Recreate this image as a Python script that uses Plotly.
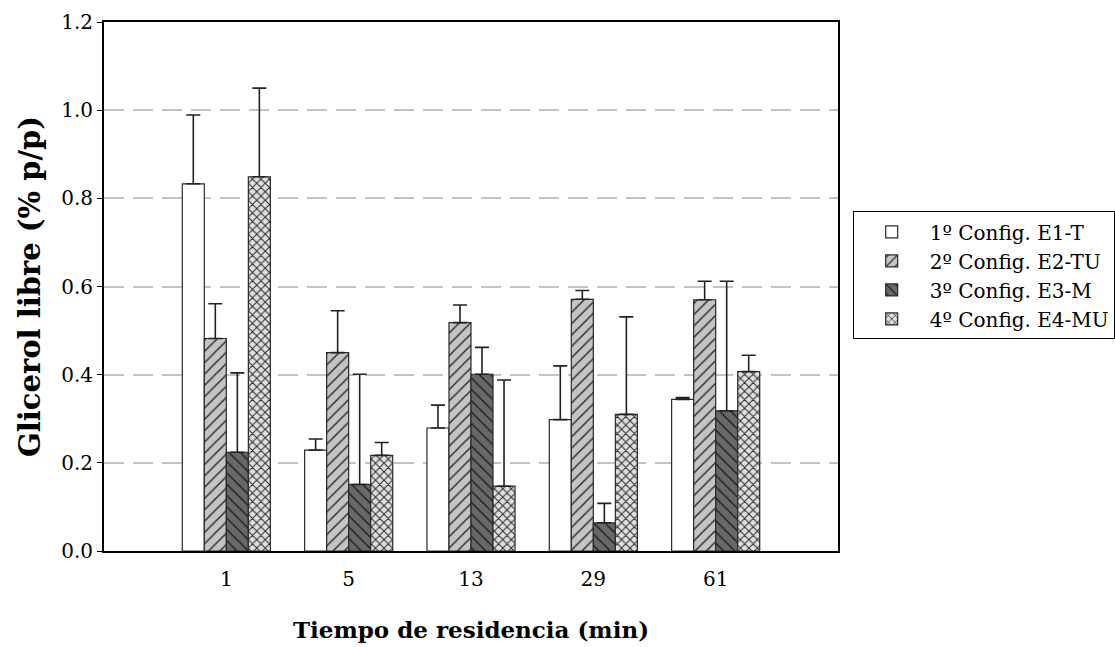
import plotly.graph_objects as go

# Residence times (min)
tiempos = ["1", "5", "13", "29", "61"]

# Free glycerol (% p/p) per configuration and upper error
e1_t = [0.833, 0.229, 0.279, 0.298, 0.344]
e1_t_err = [0.156, 0.025, 0.052, 0.122, 0.004]

e2_tu = [0.482, 0.450, 0.518, 0.571, 0.570]
e2_tu_err = [0.079, 0.095, 0.040, 0.020, 0.042]

e3_m = [0.224, 0.151, 0.401, 0.064, 0.318]
e3_m_err = [0.180, 0.250, 0.061, 0.044, 0.294]

e4_mu = [0.849, 0.217, 0.147, 0.310, 0.407]
e4_mu_err = [0.201, 0.029, 0.241, 0.221, 0.037]

nombres = ["1º Config. E1-T", "2º Config. E2-TU", "3º Config. E3-M", "4º Config. E4-MU"]

SERIF = "DejaVu Serif, Liberation Serif, serif"

estilos = [
    dict(color="white", pattern=dict(shape="")),
    dict(color="#c4c4c4", pattern=dict(shape="/", fgcolor="#2a2a2a", bgcolor="#c4c4c4",
                                       size=8, solidity=0.18, fillmode="replace")),
    dict(color="#686868", pattern=dict(shape="\\", fgcolor="#1e1e1e", bgcolor="#686868",
                                       size=8, solidity=0.18, fillmode="replace")),
    dict(color="#e0e0e0", pattern=dict(shape="x", fgcolor="#2a2a2a", bgcolor="#e0e0e0",
                                       size=6, solidity=0.3, fillmode="replace")),
]

series = [(e1_t, e1_t_err), (e2_tu, e2_tu_err), (e3_m, e3_m_err), (e4_mu, e4_mu_err)]

fig = go.Figure()
for nombre, (vals, errs), est in zip(nombres, series, estilos):
    fig.add_trace(go.Bar(
        x=tiempos, y=vals, name=nombre,
        marker=dict(color=est["color"], pattern=est["pattern"],
                    line=dict(color="#2a2a2a", width=1.2)),
        error_y=dict(type="data", array=errs, arrayminus=[0] * len(errs),
                     symmetric=False, color="#222222", thickness=1.6, width=7),
    ))

fig.update_layout(
    width=1115, height=647,
    margin=dict(l=103.5, r=277, t=22, b=96, autoexpand=False),
    paper_bgcolor="white", plot_bgcolor="white",
    barmode="group", bargap=0.28, bargroupgap=0,
    font=dict(family=SERIF, size=19, color="black"),
    legend=dict(x=1.02, y=0.642, xanchor="left", yanchor="top",
                bordercolor="black", borderwidth=1, bgcolor="white",
                font=dict(family=SERIF, size=20), itemwidth=66,
                tracegroupgap=0),
    xaxis=dict(
        type="category", range=[-1, 5], automargin=False,
        showline=True, linecolor="black", linewidth=1.8, mirror=True,
        ticks="", showgrid=False, ticklabelstandoff=9,
        tickfont=dict(family=SERIF, size=20),
        title=dict(text="<b>Tiempo de residencia (min)</b>",
                   font=dict(family=SERIF, size=23), standoff=32),
    ),
    yaxis=dict(
        range=[0, 1.2], tickvals=[0, 0.2, 0.4, 0.6, 0.8, 1.0, 1.2],
        tickformat=".1f", automargin=False,
        showline=True, linecolor="black", linewidth=1.8, mirror=True,
        ticks="outside", ticklen=5, tickcolor="black",
        showgrid=True, gridcolor="#c3c3c3", gridwidth=1.5, griddash="20px,9px",
        zeroline=False,
        tickfont=dict(family=SERIF, size=20),
        title=dict(text="<b>Glicerol libre (% p/p)</b>",
                   font=dict(family=SERIF, size=29), standoff=12),
    ),
)

fig.write_html("out.html")
